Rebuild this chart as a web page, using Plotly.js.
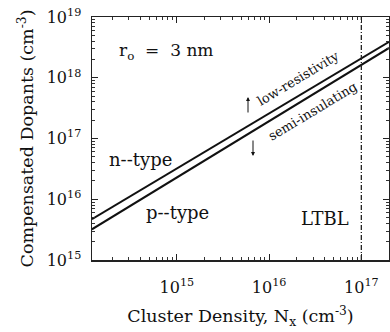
<!DOCTYPE html>
<html><head><meta charset="utf-8">
<script src="https://cdn.plot.ly/plotly-3.0.1.min.js"></script>
<style>html,body{margin:0;padding:0;background:#fff}#c{width:390px;height:332px}</style>
</head><body><div id="c"></div>
<script>
// data
const clusterX = [1.2e14, 2.0e17];
const nTypeBoundary = [4.7e15, 3.9e18];
const pTypeBoundary = [3.2e15, 3.1e18];
const ltblX = [1e17, 1e17];
const ltblY = [1e15, 1e19];
const xTickVals = [1e15, 1e16, 1e17];
const xTickText = ['10<sup>15</sup>', '10<sup>16</sup>', '10<sup>17</sup>'];
const yTickVals = [1e15, 1e16, 1e17, 1e18, 1e19];
const yTickText = ['10<sup>15</sup>', '10<sup>16</sup>', '10<sup>17</sup>', '10<sup>18</sup>', '10<sup>19</sup>'];

function minorVals(e0, e1) {
  const out = [];
  for (let e = e0; e <= e1; e++) for (let k = 2; k <= 9; k++) out.push(k * Math.pow(10, e));
  return out;
}

const F = "'DejaVu Serif', 'Liberation Serif', serif";
const L = 92, R = 389, T = 17, B = 260;
const px = v => (v - L) / (R - L);
const py = v => (B - v) / (B - T);
const XR = [14.08, 17.30], YR = [15, 19];

const traces = [
  {x: clusterX, y: nTypeBoundary, mode: 'lines', line: {color: '#111', width: 2}, hoverinfo: 'none'},
  {x: clusterX, y: pTypeBoundary, mode: 'lines', line: {color: '#111', width: 2}, hoverinfo: 'none'},
  {x: ltblX, y: ltblY, xaxis: 'x2', yaxis: 'y2', mode: 'lines', line: {color: '#222', width: 1.3, dash: '5px,2px,1px,2px'}, hoverinfo: 'none'}
];

const ann = (t, x, y, o) => Object.assign({text: t, xref: 'paper', yref: 'paper', x: px(x), y: py(y), xanchor: 'center', yanchor: 'middle', showarrow: false, font: {family: F, size: 18, color: '#111'}}, o || {});

const axisCommon = {
  type: 'log',
  ticks: 'inside', ticklen: 6, tickwidth: 1, tickcolor: '#222',
  showline: true, linecolor: '#222', linewidth: 1.5, mirror: 'ticks',
  showgrid: false, zeroline: false,
  tickfont: {family: F, size: 16, color: '#111'}
};
const minorAxis = {
  type: 'log', tickmode: 'array', ticks: 'inside', ticklen: 3, tickwidth: 1, tickcolor: '#333',
  showticklabels: false, showline: true, linecolor: '#222', linewidth: 1.5, mirror: 'ticks',
  showgrid: false, zeroline: false
};

const layout = {
  width: 390, height: 332,
  margin: {l: L, r: 390 - R, t: T, b: 332 - B},
  paper_bgcolor: '#fff', plot_bgcolor: '#fff',
  showlegend: false,
  font: {family: F, color: '#111'},
  xaxis: Object.assign({}, axisCommon, {
    range: XR,
    tickmode: 'array', tickvals: xTickVals, ticktext: xTickText,
    ticklabelstandoff: 12,
    title: {text: 'Cluster Density, N<sub>x</sub> (cm<sup>-3</sup>)', font: {family: F, size: 17.5, color: '#111'}, standoff: 14}
  }),
  yaxis: Object.assign({}, axisCommon, {
    range: YR,
    tickmode: 'array', tickvals: yTickVals, ticktext: yTickText,
    ticklabelstandoff: 6,
    title: {text: 'Compensated Dopants (cm<sup>-3</sup>)', font: {family: F, size: 17.5, color: '#111'}, standoff: 8}
  }),
  xaxis2: Object.assign({}, minorAxis, {overlaying: 'x', anchor: 'y2', side: 'bottom', range: XR, tickvals: minorVals(14, 17)}),
  yaxis2: Object.assign({}, minorAxis, {overlaying: 'y', anchor: 'x2', side: 'left', range: YR, tickvals: minorVals(15, 18)}),
  annotations: [
    ann('r<sub>o</sub>  =  3 nm', 166, 51, {font: {family: F, size: 17, color: '#111'}}),
    ann('n--type', 140, 159),
    ann('p--type', 177, 212),
    ann('LTBL', 325, 218),
    ann('low-resistivity', 298, 79, {textangle: -31, font: {family: F, size: 13, color: '#111'}}),
    ann('semi-insulating', 312, 111, {textangle: -31, font: {family: F, size: 13, color: '#111'}}),
    {xref: 'paper', yref: 'paper', x: px(248), y: py(97), text: '', showarrow: true, arrowhead: 2, arrowsize: 0.8, arrowwidth: 1, arrowcolor: '#111', ax: 0, ay: 17},
    {xref: 'paper', yref: 'paper', x: px(253), y: py(156), text: '', showarrow: true, arrowhead: 2, arrowsize: 0.8, arrowwidth: 1, arrowcolor: '#111', ax: 0, ay: -17}
  ]
};
Plotly.newPlot('c', traces, layout, {displayModeBar: false, staticPlot: true});
</script></body></html>
